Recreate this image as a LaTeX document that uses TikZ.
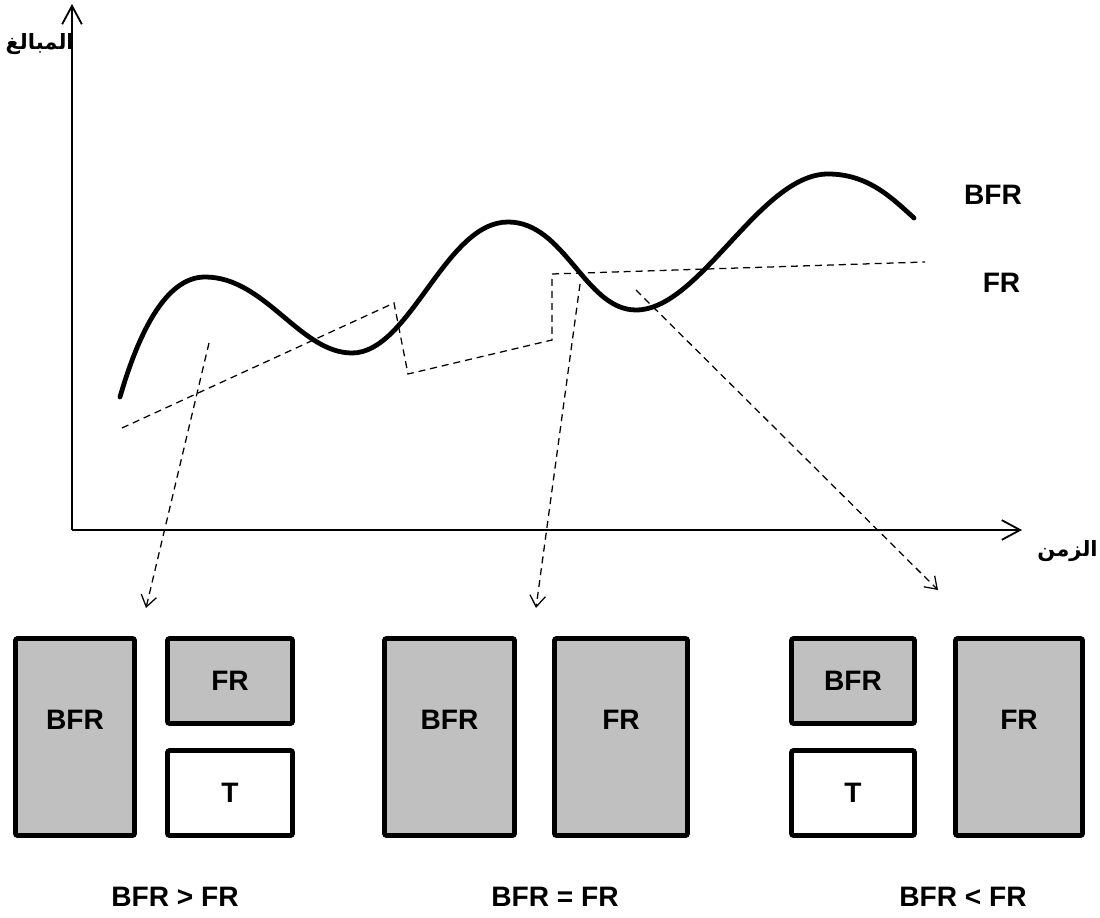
\documentclass[tikz,border=0pt]{standalone}
\usepackage{fontspec}
\setmainfont{Liberation Sans}
\newfontfamily\arabicfont[Script=Arabic]{DejaVu Sans}
\TeXXeTstate=1
\usetikzlibrary{arrows.meta}
\definecolor{boxgray}{HTML}{C0C0C0}
\newcommand{\lbl}{\bfseries\fontsize{20}{24}\selectfont}
\newcommand{\arlbl}[1]{\arabicfont\bfseries\fontsize{15}{18}\selectfont\beginR #1\endR}
\tikzset{
  axis/.style={line width=1.3pt, -{Straight Barb[length=13pt,width=14pt]}},
  curve/.style={line width=3.4pt, line cap=round},
  frline/.style={line width=0.9pt, dash pattern=on 5pt off 3.5pt},
  pointer/.style={frline, -{Straight Barb[length=8pt,width=11pt]}},
  box/.style={draw, line width=3.4pt, rounded corners=1.5pt, fill=boxgray,
    font=\lbl, inner sep=0pt},
  tallbox/.style={box, minimum width=#1, minimum height=4.925cm},
  smallbox/.style={box, minimum width=#1, minimum height=2.125cm},
  txt/.style={font=\lbl, inner sep=0pt}
}

\begin{document}
\begin{tikzpicture}[x=0.025cm, y=-0.025cm]
\useasboundingbox (0,0) rectangle (1100,918);

% axes
\draw[axis] (72,530) -- (72,4);
\draw[axis] (72,530) -- (1022,530);
\node[inner sep=0pt, anchor=east] (yname) at (74,44) {\arlbl{المبالغ}};
\node[inner sep=0pt, anchor=east] (xname) at (1098,551) {\arlbl{الزمن}};

% BFR curve
\draw[curve] (120,397) .. controls (138,335) and (165,277) .. (205,277)
  .. controls (265,277) and (300,353) .. (352,353)
  .. controls (410,353) and (445,222) .. (508,222)
  .. controls (565,222) and (585,310) .. (636,310)
  .. controls (700,310) and (760,174) .. (828,174)
  .. controls (868,174) and (892,198) .. (914,218);

% FR line
\draw[frline] (122,428) -- (394,303) -- (408,374) -- (552,340)
  -- (552,274) -- (925,262);

\node[txt] (bfrname) at (993,195) {BFR};
\node[txt] (frname) at (1001.5,283) {FR};

% boxes
\node[tallbox=2.975cm, label={[txt,yshift=12pt]center:BFR}] (bfrA) at (75,737) {};
\node[smallbox=3.125cm] (frA) at (230,681) {FR};
\node[smallbox=3.125cm, fill=white] (tA) at (230,793) {T};

\node[tallbox=3.25cm, label={[txt,yshift=12pt]center:BFR}] (bfrB) at (449.5,737) {};
\node[tallbox=3.325cm, label={[txt,yshift=12pt]center:FR}] (frB) at (621,737) {};

\node[smallbox=3.075cm] (bfrC) at (853,681) {BFR};
\node[smallbox=3.075cm, fill=white] (tC) at (853,793) {T};
\node[tallbox=3.175cm, label={[txt,yshift=12pt]center:FR}] (frC) at (1019,737) {};

% pointers
\coordinate (fromA) at (209,343);
\coordinate (toA) at (146,608);
\coordinate (fromB) at (580,284);
\coordinate (toB) at (536,608);
\coordinate (fromC) at (636,290);
\coordinate (toC) at (938,590);
\draw[pointer] (fromA) -- (toA);
\draw[pointer] (fromB) -- (toB);
\draw[pointer] (fromC) -- (toC);

\node[txt] (caseA) at (175,897) {BFR > FR};
\node[txt] (caseB) at (555,897) {BFR = FR};
\node[txt] (caseC) at (963,897) {BFR < FR};

\end{tikzpicture}
\end{document}
